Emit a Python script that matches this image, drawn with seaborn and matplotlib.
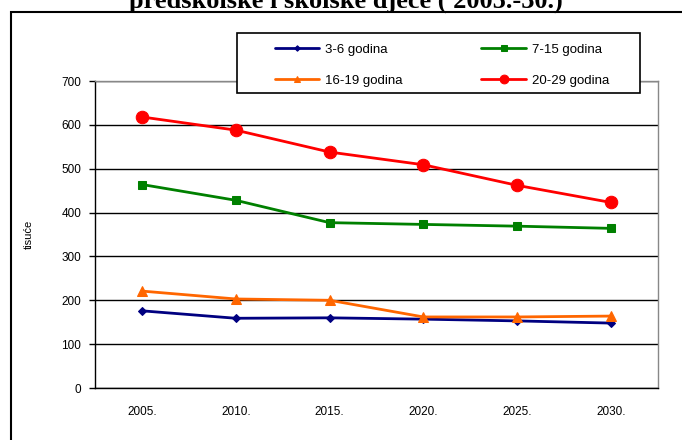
import pandas as pd
import seaborn as sns
import matplotlib.pyplot as plt
from matplotlib.patches import Rectangle

years = ["2005.", "2010.", "2015.", "2020.", "2025.", "2030."]
groups = ["3-6 godina", "7-15 godina", "16-19 godina", "20-29 godina"]
age_3_6 = [176, 159, 160, 157, 153, 148]
age_7_15 = [464, 428, 377, 373, 369, 364]
age_16_19 = [221, 203, 200, 162, 162, 164]
age_20_29 = [618, 588, 538, 509, 462, 423]
colors = ["#000080", "#008000", "#FF6600", "#FF0000"]
markers = ["D", "s", "^", "o"]
msizes = [4, 6, 7, 9]

df = pd.DataFrame({
    "godina": years * 4,
    "skupina": [g for g in groups for _ in years],
    "tisuce": age_3_6 + age_7_15 + age_16_19 + age_20_29,
})

sns.set_style("white")
plt.rcParams["font.family"] = ["Liberation Sans", "DejaVu Sans"]
plt.rcParams["text.color"] = "black"
plt.rcParams["axes.labelcolor"] = "black"
plt.rcParams["xtick.color"] = "black"
plt.rcParams["ytick.color"] = "black"

W, H = 682, 440
fig = plt.figure(figsize=(6.82, 4.4), dpi=100)
ax = fig.add_axes([95 / W, 1 - 388 / H, 563 / W, 307 / H])

for g, c, m, ms in zip(groups, colors, markers, msizes):
    sub = df[df["skupina"] == g]
    sns.lineplot(data=sub, x="godina", y="tisuce", color=c, marker=m,
                 markersize=ms, markeredgecolor=c, linewidth=2, ax=ax,
                 label=g, zorder=3)

ax.set_xlim(-0.5, 5.5)
ax.set_ylim(0, 700)
ax.set_yticks(range(0, 701, 100))
ax.set_xticks(range(6))
ax.set_xticklabels(years)
ax.set_xticks([i - 0.5 for i in range(7)], minor=True)
ax.tick_params(axis="x", which="major", length=0, pad=13, labelsize=8.5)
ax.tick_params(axis="x", which="minor", length=4, width=1, color="black", direction="out")
ax.tick_params(axis="y", length=4, width=1, color="black", direction="out", labelsize=8.5, pad=6)
ax.tick_params(axis="both", bottom=True, left=True)
ax.grid(axis="y", color="black", linewidth=1)
ax.set_xlabel("")
ax.set_ylabel("tisuće", fontsize=8, labelpad=20)

for s in ["left", "bottom"]:
    ax.spines[s].set_color("black")
    ax.spines[s].set_linewidth(1)
for s in ["top", "right"]:
    ax.spines[s].set_color("#888888")
    ax.spines[s].set_linewidth(1)

h, l = ax.get_legend_handles_labels()
ax.get_legend().remove()

# legend box drawn separately, entries placed inside it
fig.add_artist(Rectangle((237 / W, 1 - 93 / H), 403 / W, 60 / H,
                         transform=fig.transFigure, facecolor="white",
                         edgecolor="black", linewidth=1.2, zorder=5))
order = [0, 2, 1, 3]
leg = fig.legend([h[i] for i in order], [l[i] for i in order], ncol=2,
                 loc="upper left", bbox_to_anchor=(268 / W, 1 - 37 / H),
                 frameon=False, fontsize=9.5, handlelength=3.4,
                 handletextpad=0.4, labelspacing=1.4, columnspacing=6.0,
                 borderpad=0, markerscale=0.7)
leg.set_zorder(6)

fig.add_artist(Rectangle((11 / W, -0.1), 1.2, 1 - 12 / H + 0.1,
                         transform=fig.transFigure, fill=False,
                         edgecolor="black", linewidth=1.5))
fig.text(346 / W, 1 - 8 / H, "predškolske i školske djece ( 2005.-30.)",
         ha="center", va="baseline", fontsize=19, fontweight="bold",
         family=["Liberation Serif", "DejaVu Serif"])

fig.savefig("out.png", dpi=100)
